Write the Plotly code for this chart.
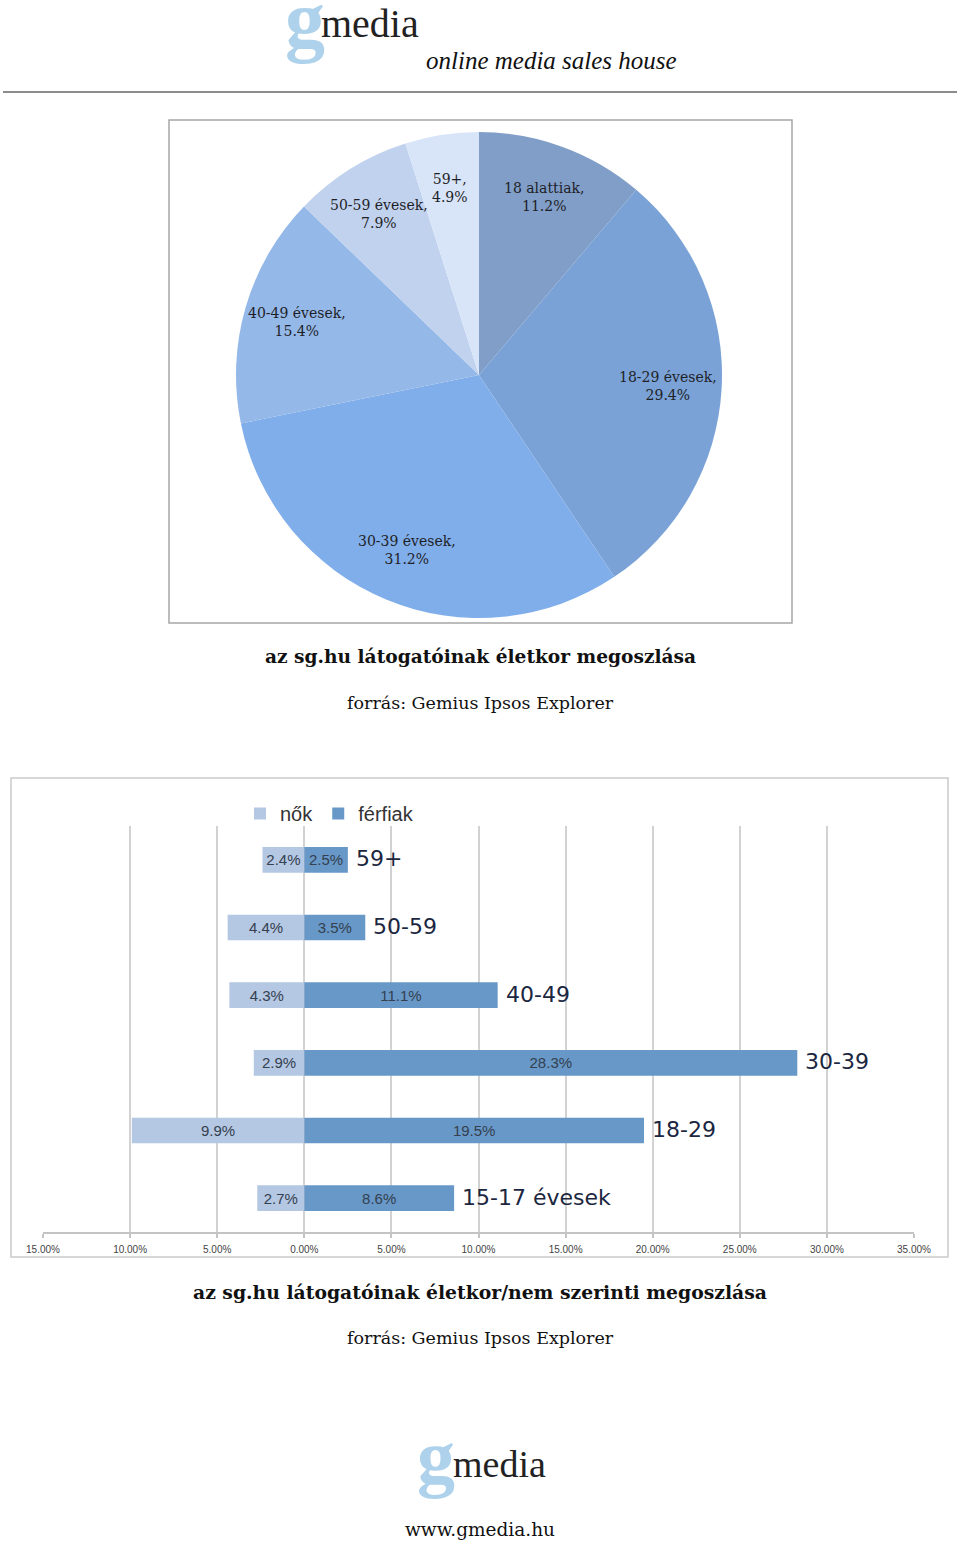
import math
import plotly.graph_objects as go

W, H = 960, 1544

# ---------------- data ----------------
pie_labels = ["18 alattiak", "18-29 évesek", "30-39 évesek", "40-49 évesek", "50-59 évesek", "59+"]
pie_values = [11.2, 29.4, 31.2, 15.4, 7.9, 4.9]
pie_colors = ["#809ec7", "#7aa2d6", "#80aeea", "#94b8e8", "#c0d2ee", "#d8e5f8"]

bar_categories = ["15-17 évesek", "18-29", "30-39", "40-49", "50-59", "59+"]
women = [2.7, 9.9, 2.9, 4.3, 4.4, 2.4]
men = [8.6, 19.5, 28.3, 11.1, 3.5, 2.5]
x_tick_values = [-15, -10, -5, 0, 5, 10, 15, 20, 25, 30, 35]
x_tick_labels = ["15.00%", "10.00%", "5.00%", "0.00%", "5.00%", "10.00%",
                 "15.00%", "20.00%", "25.00%", "30.00%", "35.00%"]

series_names = ["nők", "férfiak"]
series_colors = ["#b4c7e3", "#6798c7"]

pie_title = "az sg.hu látogatóinak életkor megoszlása"
bar_title = "az sg.hu látogatóinak életkor/nem szerinti megoszlása"
source_text = "forrás: Gemius Ipsos Explorer"


def px(x):
    return x / W


def py(y):
    return 1 - y / H


SERIF = "DejaVu Serif, serif"
LSERIF = "Liberation Serif, Times New Roman, serif"
SANS = "Liberation Sans, Arial, sans-serif"
VERD = "DejaVu Sans, Verdana, sans-serif"

fig = go.Figure()

# ---------------- pie ----------------
pcx, pcy, pr = 479, 375, 243
fig.add_trace(go.Pie(
    labels=pie_labels, values=pie_values, sort=False, direction="clockwise",
    rotation=0, textinfo="none", hoverinfo="label+percent",
    marker=dict(colors=pie_colors, line=dict(width=0)),
    domain=dict(x=[px(pcx - pr), px(pcx + pr)], y=[py(pcy + pr), py(pcy - pr)]),
    showlegend=False, automargin=False,
))

annotations = []
total = sum(pie_values)
cum = 0.0
for lab, val in zip(pie_labels, pie_values):
    mid = (cum + val / 2) / total * 2 * math.pi
    cum += val
    k = 0.78
    sx = pcx + math.sin(mid) * pr * k
    sy = pcy - math.cos(mid) * pr * k
    annotations.append(dict(
        x=px(sx), y=py(sy), xref="paper", yref="paper", showarrow=False,
        xanchor="center", yanchor="middle",
        text=f"{lab},<br>{val:.1f}%", align="center",
        font=dict(family=SERIF, size=14, color="#1f1f28"),
    ))

# ---------------- bars ----------------
fig.add_trace(go.Bar(
    y=bar_categories, x=[-v for v in women], orientation="h", name=series_names[0],
    marker=dict(color=series_colors[0], line=dict(width=0)),
    text=[f"{v:.1f}%" for v in women], textposition="inside", insidetextanchor="middle",
    textangle=0, textfont=dict(family=SANS, size=15, color="#34404f"),
    width=0.38, xaxis="x", yaxis="y",
))
fig.add_trace(go.Bar(
    y=bar_categories, x=men, orientation="h", name=series_names[1],
    marker=dict(color=series_colors[1], line=dict(width=0)),
    text=[f"{v:.1f}%" for v in men], textposition="inside", insidetextanchor="middle",
    textangle=0, textfont=dict(family=SANS, size=15, color="#34404f"),
    width=0.38, xaxis="x", yaxis="y",
))

for cat, v in zip(bar_categories, men):
    annotations.append(dict(
        x=v, y=cat, xref="x", yref="y", xanchor="left", yanchor="middle", xshift=6, yshift=1,
        showarrow=False, text=cat,
        font=dict(family=VERD, size=22, color="#1b2640"),
    ))

# ---------------- page texts ----------------
def txt(x, y, s, size, family=SERIF, color="#111111", xanchor="center", weight="normal", style="normal"):
    annotations.append(dict(
        x=px(x), y=py(y), xref="paper", yref="paper", showarrow=False, text=s,
        xanchor=xanchor, yanchor="middle",
        font=dict(family=family, size=size, color=color, weight=weight, style=style),
    ))

# header logo
txt(283, 20, "g", 80, family=LSERIF, color="#aed2ec", xanchor="left", weight="bold")
txt(319, 23, "media", 40, family=LSERIF, color="#222222", xanchor="left")
txt(424, 60, "online media sales house", 25, family=LSERIF, color="#111111", xanchor="left", style="italic")

# captions
txt(480, 657, f"<b>{pie_title}</b>", 18.6)
txt(480, 703, source_text, 17.5)
txt(480, 1292, f"<b>{bar_title}</b>", 18.8)
txt(480, 1338, source_text, 17.5)

# footer logo
txt(415, 1457, "g", 76, family=LSERIF, color="#aed2ec", xanchor="left", weight="bold")
txt(451, 1464, "media", 38, family=LSERIF, color="#222222", xanchor="left")
txt(480, 1529, "www.gmedia.hu", 18.5, color="#111111")

shapes = [
    dict(type="line", xref="paper", yref="paper", x0=px(3), x1=px(957), y0=py(92), y1=py(92),
         line=dict(color="#8c8c8c", width=2)),
    dict(type="rect", xref="paper", yref="paper", x0=px(169), x1=px(792), y0=py(120), y1=py(623),
         line=dict(color="#a6a6a6", width=1.5)),
    dict(type="rect", xref="paper", yref="paper", x0=px(11), x1=px(948), y0=py(778), y1=py(1257),
         line=dict(color="#cacaca", width=1.5)),
]

fig.update_layout(
    width=W, height=H, autosize=False,
    margin=dict(l=0, r=0, t=0, b=0, pad=0, autoexpand=False),
    paper_bgcolor="white", plot_bgcolor="white",
    barmode="relative", bargap=0.62,
    uniformtext=dict(minsize=14, mode="show"),
    annotations=annotations, shapes=shapes,
    legend=dict(orientation="h", x=px(240), y=py(794), xanchor="left", yanchor="top",
                font=dict(family=SANS, size=20, color="#333333"),
                bgcolor="rgba(0,0,0,0)", itemwidth=30, traceorder="normal"),
    xaxis=dict(domain=[px(43), px(914)], range=[-15, 35], tickvals=x_tick_values,
               ticktext=x_tick_labels, showgrid=True, gridcolor="#d2d2d2", gridwidth=1.5,
               zeroline=True, zerolinecolor="#d2d2d2", zerolinewidth=1.5,
               showline=True, linecolor="#c4c4c4", linewidth=1.5,
               ticks="outside", ticklen=4, tickcolor="#c4c4c4", tickwidth=1.5,
               tickfont=dict(family=SANS, size=10, color="#444444"), ticklabelstandoff=3,
               anchor="y", fixedrange=True, automargin=False),
    yaxis=dict(domain=[py(1232), py(826)], range=[-0.5, 5.5], type="category",
               categoryorder="array", categoryarray=bar_categories,
               showticklabels=False, showgrid=False, zeroline=False, showline=False,
               ticks="", anchor="x", fixedrange=True, automargin=False),
)

fig.write_html(
    "out.html",
    config={"displayModeBar": False},
    post_script="document.body.style.margin='0';document.body.style.padding='0';"
                "document.documentElement.style.overflow='hidden';",
)
